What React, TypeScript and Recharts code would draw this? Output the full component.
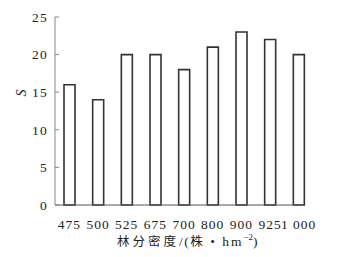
import React from 'react';
import { BarChart, Bar, XAxis, YAxis } from 'recharts';

const categories = ['475', '500', '525', '675', '700', '800', '900', '925', '1 000'];
const values = [16, 14, 20, 20, 18, 21, 23, 22, 20];
const yTicks = [0, 5, 10, 15, 20, 25];

const data = categories.map((c, i) => ({ name: c, s: values[i] }));

const FONT = '"Liberation Serif", "Times New Roman", serif';
const CJK = '"Noto Sans CJK SC", sans-serif';

const YLabel = () => (
  <text
    x={21}
    y={93}
    transform="rotate(-90, 21, 93)"
    textAnchor="middle"
    dominantBaseline="central"
    fontFamily={FONT}
    fontStyle="italic"
    fontSize={14}
    fill="#222"
  >
    S
  </text>
);

const XLabel = () => (
  <text x={117} y={246} textAnchor="start" fontFamily={FONT} fontSize={13.5} fill="#222">
    <tspan fontFamily={CJK} fontSize={12.5} letterSpacing={3}>林分密度</tspan>
    <tspan letterSpacing={1.5}>/(</tspan>
    <tspan fontFamily={CJK} fontSize={12.5} letterSpacing={2}>株</tspan>
    <tspan letterSpacing={2}> • hm</tspan>
    <tspan fontSize={9} dy={-6}>−2</tspan>
    <tspan dy={6}>)</tspan>
  </text>
);

export default function App() {
  return (
    <div style={{ position: 'absolute', left: 0, top: 0, width: 341, height: 257, background: '#fff' }}>
      <BarChart
        width={341}
        height={257}
        data={data}
        margin={{ top: 17, right: 38, bottom: 22, left: 0 }}
        barCategoryGap={0}
      >
        <XAxis
          dataKey="name"
          interval={0}
          tickLine={false}
          tickSize={6}
          tickMargin={8}
          height={30}
          padding={{ left: 0, right: -10 }}
          axisLine={{ stroke: '#555', strokeWidth: 1 }}
          tick={{ fontFamily: FONT, fontSize: 13.5, fill: '#222', letterSpacing: 1 }}
          label={<XLabel />}
        />
        <YAxis
          domain={[0, 25]}
          ticks={yTicks}
          width={55}
          tickSize={-4}
          tickMargin={11}
          axisLine={{ stroke: '#888', strokeWidth: 1 }}
          tickLine={{ stroke: '#888' }}
          tick={{ fontFamily: FONT, fontSize: 13.5, fill: '#222', letterSpacing: 1.2 }}
          label={<YLabel />}
        />
        <Bar
          dataKey="s"
          barSize={11}
          fill="#fff"
          stroke="#333"
          strokeWidth={1.6}
          isAnimationActive={false}
        />
      </BarChart>
    </div>
  );
}
